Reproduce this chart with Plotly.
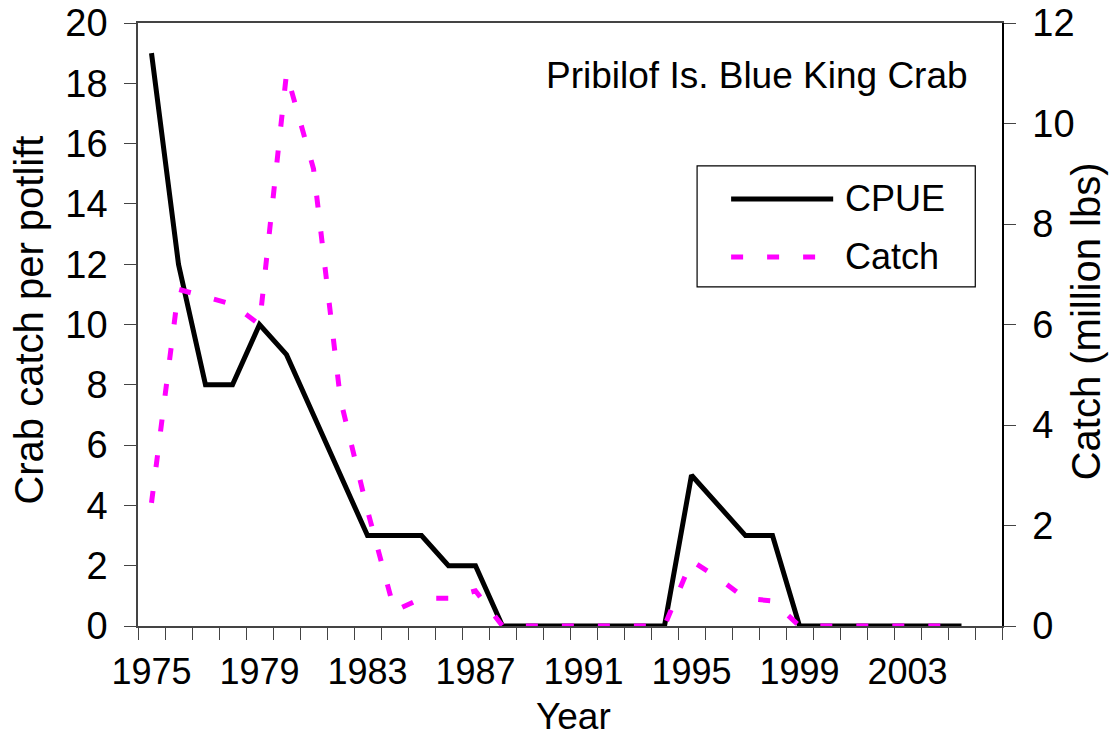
import plotly.graph_objects as go

# Survey years and the two series
years = list(range(1975, 2006))
cpue = [19, 12, 8, 8, 10, 9, 7, 5, 3, 3, 3, 2, 2,
        0, 0, 0, 0, 0, 0, 0,
        5, 4, 3, 3,
        0, 0, 0, 0, 0, 0, 0]
catch_mlbs = [2.45, 6.7, 6.55, 6.4, 6.0, 11.0, 9.1, 4.5, 2.3, 0.3, 0.55, 0.55, 0.7,
              0, 0, 0, 0, 0, 0, 0,
              1.3, 0.95, 0.55, 0.5,
              0, 0, 0, 0, 0, 0, 0]
year_ticks = list(range(1975, 2004, 4))
left_ticks = list(range(0, 21, 2))
right_ticks = list(range(0, 13, 2))

FONT = "Liberation Sans, Arial, sans-serif"
W, H = 1114, 736
PL, PR, PT, PB = 138.3, 1001.7, 23.3, 625.7  # plot area in pixels


def px_x(v):
    return (v - PL) / (PR - PL)


def px_y(v):
    return (PB - v) / (PB - PT)


fig = go.Figure()
fig.add_trace(go.Scatter(
    x=years, y=cpue, name="CPUE", mode="lines",
    line=dict(color="black", width=5), yaxis="y", showlegend=False))
fig.add_trace(go.Scatter(
    x=years, y=catch_mlbs, name="Catch", mode="lines",
    line=dict(color="#FF00FF", width=5, dash="12px,24px"), yaxis="y2",
    showlegend=False))

axis_line = "#444444"
fig.update_layout(
    width=W, height=H,
    margin=dict(l=PL, r=W - PR, t=PT, b=H - PB, autoexpand=False),
    paper_bgcolor="white", plot_bgcolor="white",
    font=dict(family=FONT, size=37, color="black"),
    xaxis=dict(
        range=[1974.5, 2006.5], tickmode="array", tickvals=year_ticks,
        ticktext=[str(y) for y in year_ticks], ticks="", showgrid=False,
        zeroline=False, showline=True, linecolor=axis_line, linewidth=1.5,
        mirror=True, tickfont=dict(size=36), ticklabelstandoff=13,
        minor=dict(tick0=1974.5, dtick=1, ticks="outside", ticklen=12,
                   tickcolor=axis_line, tickwidth=1.3, showgrid=False),
    ),
    yaxis=dict(
        range=[0, 20], tickvals=left_ticks, ticks="outside", ticklen=12,
        tickcolor=axis_line, tickwidth=1.3, showgrid=False, zeroline=False,
        showline=True, linecolor=axis_line, linewidth=1.5,
        tickfont=dict(size=38), ticklabelstandoff=9,
    ),
    yaxis2=dict(
        range=[0, 12], tickvals=right_ticks, overlaying="y", side="right",
        ticks="outside", ticklen=12, tickcolor=axis_line, tickwidth=1.3,
        showgrid=False, zeroline=False, showline=True, linecolor="black",
        linewidth=1.5, tickfont=dict(size=38), ticklabelstandoff=9,
    ),
    yaxis3=dict(
        range=[0, 12], tickvals=right_ticks, overlaying="y", side="right",
        ticks="inside", ticklen=12, tickcolor=axis_line, tickwidth=1.3,
        showticklabels=False, showgrid=False, zeroline=False, showline=False,
    ),
)

# Axis titles
fig.add_annotation(x=px_x(573), y=px_y(716), xref="paper", yref="paper",
                   text="Year", showarrow=False, xanchor="center",
                   yanchor="middle", font=dict(size=37))
fig.add_annotation(x=px_x(29), y=px_y(320), xref="paper", yref="paper",
                   text="Crab catch per potlift", showarrow=False, textangle=-90,
                   xanchor="center", yanchor="middle", font=dict(size=40))
fig.add_annotation(x=px_x(1086), y=px_y(321), xref="paper", yref="paper",
                   text="Catch (million lbs)", showarrow=False, textangle=-90,
                   xanchor="center", yanchor="middle", font=dict(size=40))

# Chart heading inside the plot area
fig.add_annotation(
    x=px_x(970), y=px_y(76), xref="paper", yref="paper",
    text="Pribilof Is. Blue King Crab", showarrow=False,
    xanchor="right", yanchor="middle", font=dict(size=37))

# Legend box with line samples
fig.add_shape(type="rect", xref="paper", yref="paper",
              x0=px_x(697), x1=px_x(975), y0=px_y(287), y1=px_y(166),
              line=dict(color="black", width=1.2), fillcolor="white", layer="above")
fig.add_shape(type="line", xref="paper", yref="paper",
              x0=px_x(731), x1=px_x(833), y0=px_y(199), y1=px_y(199),
              line=dict(color="black", width=5), layer="above")
fig.add_shape(type="line", xref="paper", yref="paper",
              x0=px_x(731), x1=px_x(833), y0=px_y(257), y1=px_y(257),
              line=dict(color="#FF00FF", width=5, dash="12px,24px"), layer="above")
for label, yc in (("CPUE", 199), ("Catch", 257)):
    fig.add_annotation(
        x=px_x(843), y=px_y(yc), xref="paper", yref="paper", text=label,
        showarrow=False, xanchor="left", yanchor="middle", font=dict(size=36))

fig.write_html("out.html")
